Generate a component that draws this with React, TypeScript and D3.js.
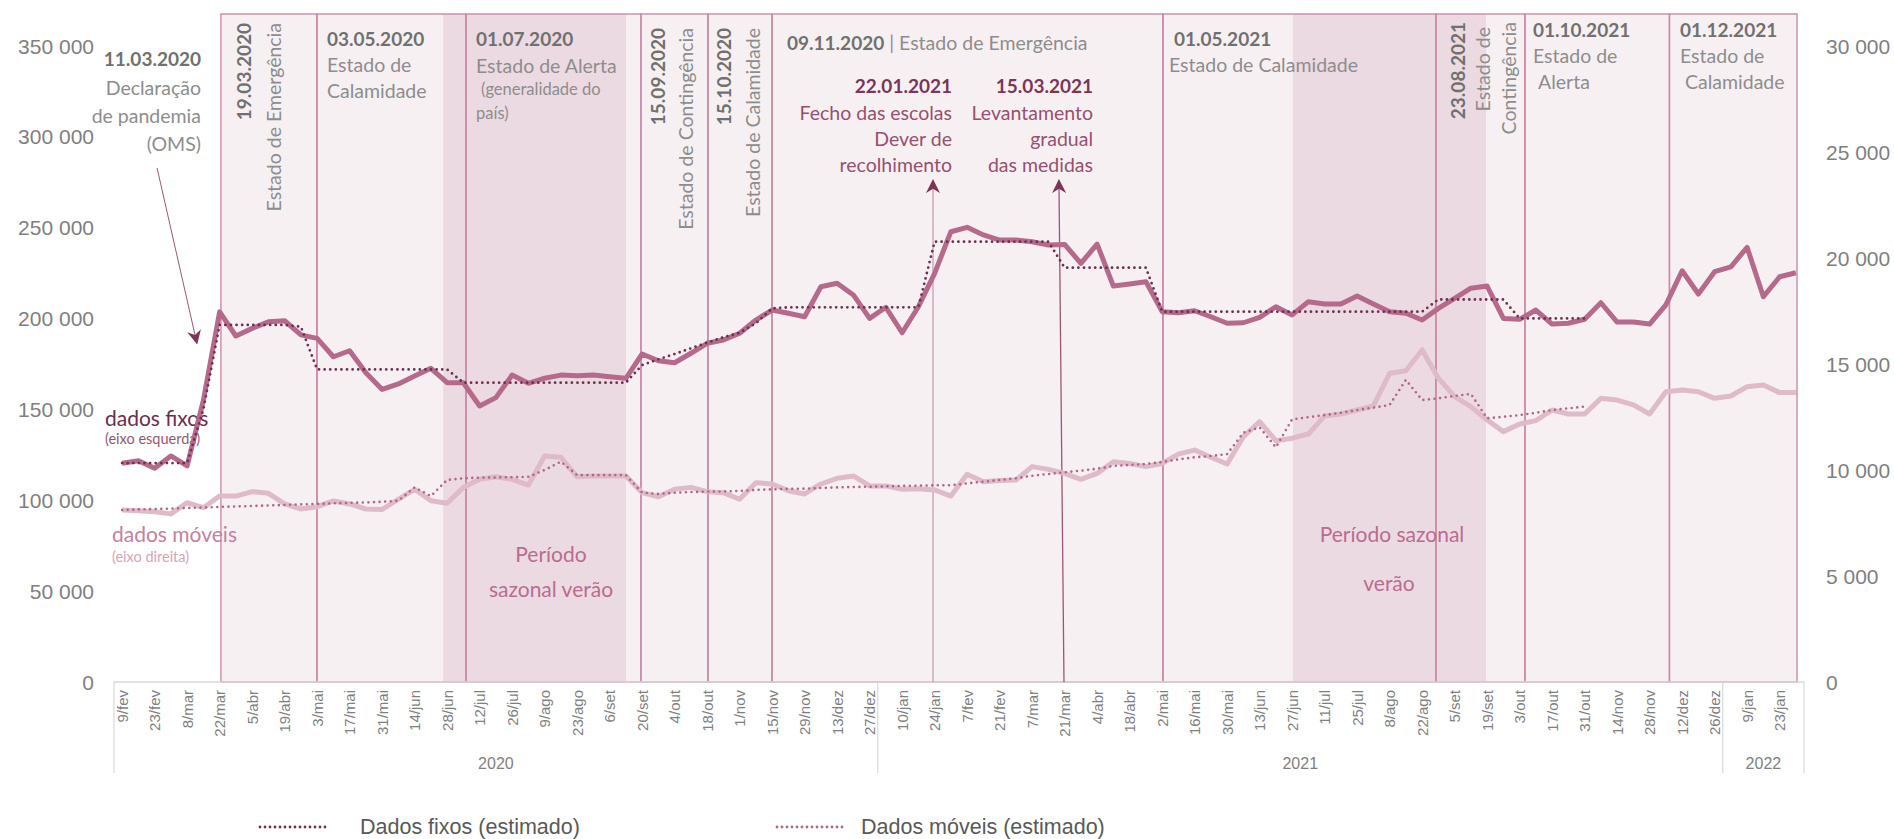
import React from 'react';
import * as d3 from 'd3';

// weekly points, 9/fev/2020 -> 30/jan/2022
const fixos = [
  120400, 121800, 117600, 124400, 118900, 155000, 203700, 190400, 194600, 198200,
  198800, 191000, 189100, 179000, 182300, 170200, 161000, 164000, 168400, 172600,
  164700, 164700, 151900, 156500, 168900, 164400, 167200, 168900, 168500, 168900,
  168000, 167100, 180500, 176800, 175700, 180900, 186400, 188200, 191900, 199200,
  204700, 202900, 201000, 217500, 219400, 213000, 200100, 206200, 192200, 206500,
  224900, 247800, 250200, 246000, 243200, 243200, 242300, 240500, 240800, 230400,
  241000, 217900, 219000, 220300, 203800, 203200, 204300, 201000, 197400, 197700,
  200700, 206500, 202000, 209300, 208000, 208000, 212400, 208000, 203800, 202900,
  199200, 205600, 211100, 216700, 217900, 200100, 199600, 204700, 197000, 197400,
  199600, 208700, 198100, 198100, 197000, 207500, 226300, 213500, 225800, 228500,
  239200, 212000, 223000, 225200,
];

const fixosEstimado = [
  120500, 120500, 120500, 120500, 120500, 150000, 196500, 196500, 196500, 196500,
  196500, 195500, 172000, 172000, 172000, 172000, 172000, 172000, 172000, 172000,
  172000, 164700, 164700, 164700, 164700, 164700, 164700, 164700, 164700, 164700,
  164700, 164700, 174400, 177600, 180500, 183600, 186700, 189700, 192200, 197400,
  205600, 206200, 206200, 206200, 206200, 206200, 206200, 206200, 206200, 206200,
  242300, 242300, 242300, 242300, 242300, 242300, 242300, 242300, 228000, 228000,
  228000, 228000, 228000, 228000, 203800, 203800, 203800, 203800, 203800, 203800,
  203800, 203800, 203800, 203800, 203800, 203800, 203800, 203800, 203800, 203800,
  203800, 210500, 210500, 210500, 210500, 210500, 200100, 200100, 200100, 200100,
  200100,
];

const moveis = [
  8110, 8080, 8030, 7930, 8460, 8220, 8770, 8770, 8980, 8900,
  8400, 8160, 8270, 8540, 8400, 8160, 8140, 8620, 9090, 8550,
  8430, 9180, 9560, 9680, 9560, 9290, 10660, 10600, 9680, 9720,
  9720, 9720, 8930, 8740, 9090, 9180, 8980, 8930, 8620, 9400,
  9340, 9020, 8870, 9340, 9610, 9720, 9250, 9250, 9090, 9120,
  9060, 8770, 9800, 9450, 9500, 9530, 10160, 10030, 9840, 9560,
  9840, 10390, 10310, 10160, 10310, 10750, 10940, 10600, 10280, 11570,
  12280, 11380, 11500, 11700, 12550, 12640, 12830, 13020, 14560, 14680,
  15660, 14330, 13460, 12990, 12360, 11810, 12170, 12330, 12830, 12640,
  12640, 13380, 13300, 13070, 12640, 13690, 13770, 13690, 13380, 13490,
  13930, 14010, 13650, 13650,
];

const moveisEstimado = [
  8110, 8140, 8160, 8180, 8210, 8230, 8260, 8280, 8300, 8330,
  8350, 8380, 8400, 8430, 8450, 8470, 8500, 8550, 9180, 8770,
  9530, 9610, 9640, 9650, 9660, 9680, 10000, 10390, 9760, 9760,
  9760, 9760, 8930, 8870, 8930, 8960, 8980, 8990, 9010, 9060,
  9090, 9110, 9120, 9150, 9180, 9200, 9210, 9230, 9250, 9260,
  9280, 9280, 9370, 9450, 9530, 9610, 9730, 9810, 9890, 9970,
  10060, 10190, 10240, 10280, 10380, 10500, 10600, 10660, 10750, 11760,
  12010, 11070, 12390, 12490, 12590, 12700, 12830, 12940, 13070, 14250,
  13300, 13380, 13490, 13590, 12440, 12510, 12590, 12700, 12830, 12910,
  12990,
];

const tickLabels = [
  '9/fev', '23/fev', '8/mar', '22/mar', '5/abr', '19/abr', '3/mai', '17/mai', '31/mai', '14/jun',
  '28/jun', '12/jul', '26/jul', '9/ago', '23/ago', '6/set', '20/set', '4/out', '18/out', '1/nov',
  '15/nov', '29/nov', '13/dez', '27/dez',
  '10/jan', '24/jan', '7/fev', '21/fev', '7/mar', '21/mar', '4/abr', '18/abr', '2/mai', '16/mai',
  '30/mai', '13/jun', '27/jun', '11/jul', '25/jul', '8/ago', '22/ago', '5/set', '19/set', '3/out',
  '17/out', '31/out', '14/nov', '28/nov', '12/dez', '26/dez',
  '9/jan', '23/jan',
];

const years = ['2020', '2021', '2022'];
const yearStart = [0, 47, 99, 104]; // week index where each year begins

// states of emergency etc. (in weeks from the first week)
const periodStart = [6.58, 12.49, 21.66, 32.43, 36.55, 40.49, 64.55, 81.35, 86.83, 95.72];
const periodEnd = 103.57;
const summerStart = [20.25, 72.55];
const summerEnd = [31.51, 84.43];

const leftTicks = [0, 50000, 100000, 150000, 200000, 250000, 300000, 350000];
const rightTicks = [0, 5000, 10000, 15000, 20000, 25000, 30000];

const ANNOT = 'Lato, "Open Sans", sans-serif';
const AXIS = '"Liberation Sans", Arial, sans-serif';
const NARROW = '"Liberation Sans Narrow", "Arial Narrow", "Liberation Sans", Arial, sans-serif';

const GRAY_B = '#707070';
const GRAY = '#8d8d8d';
const PINK_D = '#7b3557';
const PINK_T = '#95506f';

const fmt = (v: number) => d3.format(',')(v).replace(/,/g, ' ');

export default function App() {
  const weeks = d3.range(fixos.length);
  const x = d3.scaleBand<number>().domain(weeks).range([114, 1804]).padding(0);
  const xc = (i: number) => (x(i) as number) + x.bandwidth() / 2;
  const xw = d3.scaleLinear().domain([0, fixos.length]).range([114, 1804]);
  const yL = d3.scaleLinear().domain([0, 350000]).range([682, 46]);
  const yR = d3.scaleLinear().domain([0, 30000]).range([682, 46]);
  const boxTop = 14;

  const lineL = d3.line<number>().x((_, i) => xc(i)).y(d => yL(d));
  const lineR = d3.line<number>().x((_, i) => xc(i)).y(d => yR(d));

  const bounds = [...periodStart, periodEnd];

  const txt = (
    s: string, px: number, py: number,
    o: { anchor?: string; bold?: boolean; size?: number; color?: string } = {}
  ) => (
    <text key={s + px + py} x={px} y={py} textAnchor={o.anchor || 'start'} dominantBaseline="central"
      fontFamily={ANNOT} fontSize={o.size || (o.bold ? 19 : 19.5)} fontWeight={o.bold ? 700 : 400}
      fill={o.color || (o.bold ? GRAY_B : GRAY)}>{s}</text>
  );
  const vtxt = (s: string, px: number, yEnd: number, bold = false) => (
    <text key={s + px} transform={`translate(${px},${yEnd}) rotate(-90)`} textAnchor="end"
      dominantBaseline="central" fontFamily={ANNOT} fontSize={bold ? 19 : 19.5} fontWeight={bold ? 700 : 400}
      fill={bold ? GRAY_B : GRAY}>{s}</text>
  );

  // arrows expressed in weeks / left-axis values
  const omsFrom = [2.65, 282900];
  const omsTo = [5.1, 186500];
  const arrowJan = [50.4, 276000];
  const arrowMar = [58.15, 276000, 58.46];

  return (
    <svg width={1894} height={839} style={{ position: 'absolute', left: 0, top: 0, background: '#fff' }}>
      <defs>
        <marker id="ah2" viewBox="0 0 10 10" refX="9" refY="5" markerWidth="14" markerHeight="14"
          orient="auto-start-reverse" markerUnits="userSpaceOnUse">
          <path d="M0,0 L10,5 L0,10 L3,5 z" fill="#7b3557" />
        </marker>
      </defs>

      {/* period boxes */}
      {periodStart.map((s, k) => (
        <rect key={'pf' + k} x={xw(s)} y={boxTop} width={xw(bounds[k + 1]) - xw(s)} height={682 - boxTop}
          fill="#f7f0f3" />
      ))}
      {summerStart.map((s, k) => (
        <rect key={'sm' + k} x={xw(s)} y={boxTop} width={xw(summerEnd[k]) - xw(s)} height={682 - boxTop}
          fill="#ecdae2" />
      ))}
      {periodStart.map((s, k) => (
        <rect key={'pb' + k} x={xw(s)} y={boxTop} width={xw(bounds[k + 1]) - xw(s)} height={682 - boxTop}
          fill="none" stroke="#c98aa7" strokeWidth={1.4} />
      ))}

      {/* left axis */}
      {leftTicks.map(v => (
        <text key={'l' + v} x={94} y={yL(v)} textAnchor="end" dominantBaseline="central"
          fontFamily={AXIS} fontSize={21} fill="#7f7f7f">{fmt(v)}</text>
      ))}
      {rightTicks.map(v => (
        <text key={'r' + v} x={1826} y={yR(v)} textAnchor="start" dominantBaseline="central"
          fontFamily={AXIS} fontSize={21} fill="#7f7f7f">{fmt(v)}</text>
      ))}

      {/* x axis */}
      <line x1={xw(0)} x2={xw(fixos.length)} y1={682} y2={682} stroke="#d9d9d9" strokeWidth={1.5} />
      {yearStart.map(w => (
        <line key={'ys' + w} x1={xw(w)} x2={xw(w)} y1={682} y2={773} stroke="#d9d9d9" strokeWidth={1.2} />
      ))}
      {tickLabels.map((t, k) => (
        <text key={'t' + k} transform={`translate(${xc(2 * k)},690) rotate(-90)`} textAnchor="end"
          dominantBaseline="central" fontFamily={NARROW} fontSize={15} fill="#7f7f7f">{t}</text>
      ))}
      {years.map((yr, k) => (
        <text key={yr} x={(xw(yearStart[k]) + xw(yearStart[k + 1])) / 2} y={763} textAnchor="middle"
          dominantBaseline="central" fontFamily={NARROW} fontSize={16} fill="#7f7f7f">{yr}</text>
      ))}

      {/* annotations */}
      {txt('11.03.2020', 201, 58, { anchor: 'end', bold: true })}
      {txt('Declaração', 201, 87, { anchor: 'end' })}
      {txt('de pandemia', 201, 115, { anchor: 'end' })}
      {txt('(OMS)', 201, 143, { anchor: 'end' })}
      {vtxt('19.03.2020', 243, 23, true)}
      {vtxt('Estado de Emergência', 273, 23)}
      {txt('03.05.2020', 327, 38, { bold: true })}
      {txt('Estado de', 327, 64)}
      {txt('Calamidade', 327, 90)}
      {txt('01.07.2020', 476, 38, { bold: true })}
      {txt('Estado de Alerta', 476, 65)}
      {txt('(generalidade do', 481, 89, { size: 16.5 })}
      {txt('país)', 476, 113, { size: 16.5 })}
      {vtxt('15.09.2020', 657, 28, true)}
      {vtxt('Estado de Contingência', 685, 28)}
      {vtxt('15.10.2020', 723, 28, true)}
      {vtxt('Estado de Calamidade', 752, 28)}
      <text x={787} y={42} dominantBaseline="central" fontFamily={ANNOT} fontSize={19.5}>
        <tspan fontWeight={700} fill={GRAY_B} fontSize={19}>09.11.2020</tspan>
        <tspan fill={GRAY}> | Estado de Emergência</tspan>
      </text>
      {txt('22.01.2021', 952, 85, { anchor: 'end', bold: true, color: PINK_D })}
      {txt('Fecho das escolas', 952, 112, { anchor: 'end', color: PINK_T })}
      {txt('Dever de', 952, 138, { anchor: 'end', color: PINK_T })}
      {txt('recolhimento', 952, 164, { anchor: 'end', color: PINK_T })}
      {txt('15.03.2021', 1093, 85, { anchor: 'end', bold: true, color: PINK_D })}
      {txt('Levantamento', 1093, 112, { anchor: 'end', color: PINK_T })}
      {txt('gradual', 1093, 138, { anchor: 'end', color: PINK_T })}
      {txt('das medidas', 1093, 164, { anchor: 'end', color: PINK_T })}
      {txt('01.05.2021', 1174, 38, { bold: true })}
      {txt('Estado de Calamidade', 1169, 64)}
      {vtxt('23.08.2021', 1457, 22, true)}
      {vtxt('Estado de', 1482, 27)}
      {vtxt('Contingência', 1508, 22)}
      {txt('01.10.2021', 1533, 29, { bold: true })}
      {txt('Estado de', 1533, 55)}
      {txt('Alerta', 1538, 81)}
      {txt('01.12.2021', 1680, 29, { bold: true })}
      {txt('Estado de', 1680, 55)}
      {txt('Calamidade', 1685, 81)}

      {txt('Período', 551, 553, { anchor: 'middle', size: 21, color: '#b86d8f' })}
      {txt('sazonal verão', 551, 588, { anchor: 'middle', size: 21, color: '#b86d8f' })}
      {txt('Período sazonal', 1392, 533, { anchor: 'middle', size: 21, color: '#b86d8f' })}
      {txt('verão', 1389, 582, { anchor: 'middle', size: 21, color: '#b86d8f' })}

      {txt('dados fixos', 105, 417, { size: 21, color: '#6b2d4b' })}
      {txt('(eixo esquerda)', 105, 438, { size: 14.5, color: '#8e5a72' })}
      {txt('dados móveis', 112, 533, { size: 21, color: '#c4809f' })}
      {txt('(eixo direita)', 112, 556, { size: 14.5, color: '#d3a3ba' })}

      {/* arrows */}
      <line x1={xw(omsFrom[0])} y1={yL(omsFrom[1])} x2={xw(omsTo[0])} y2={yL(omsTo[1])}
        stroke="#9a5677" strokeWidth={1} markerEnd="url(#ah2)" />
      <line x1={xw(arrowJan[0])} y1={682} x2={xw(arrowJan[0])} y2={yL(arrowJan[1])}
        stroke="#d1a9bc" strokeWidth={1.5} markerEnd="url(#ah2)" />
      <line x1={xw(arrowMar[2])} y1={682} x2={xw(arrowMar[0])} y2={yL(arrowMar[1])}
        stroke="#9a5677" strokeWidth={1.3} markerEnd="url(#ah2)" />

      {/* series */}
      <path d={lineR(moveis) || ''} fill="none" stroke="#dfbac9" strokeWidth={5} strokeLinejoin="round" />
      <path d={lineR(moveisEstimado) || ''} fill="none" stroke="#b0678a" strokeWidth={2.6}
        strokeDasharray="0 5.6" strokeLinecap="round" />
      <path d={lineL(fixos) || ''} fill="none" stroke="#b56a8c" strokeWidth={5} strokeLinejoin="round" />
      <path d={lineL(fixosEstimado) || ''} fill="none" stroke="#6e3050" strokeWidth={2.8}
        strokeDasharray="0 5.6" strokeLinecap="round" />

      {/* legend */}
      <line x1={260} x2={329} y1={827} y2={827} stroke="#6e3050" strokeWidth={2.8}
        strokeDasharray="0 5" strokeLinecap="round" />
      <text x={360} y={827} dominantBaseline="central" fontFamily={AXIS} fontSize={21.5} fill="#595959">
        Dados fixos (estimado)
      </text>
      <line x1={777} x2={846} y1={827} y2={827} stroke="#b0678a" strokeWidth={2.8}
        strokeDasharray="0 5" strokeLinecap="round" />
      <text x={861} y={827} dominantBaseline="central" fontFamily={AXIS} fontSize={21.5} fill="#595959">
        Dados móveis (estimado)
      </text>
    </svg>
  );
}
